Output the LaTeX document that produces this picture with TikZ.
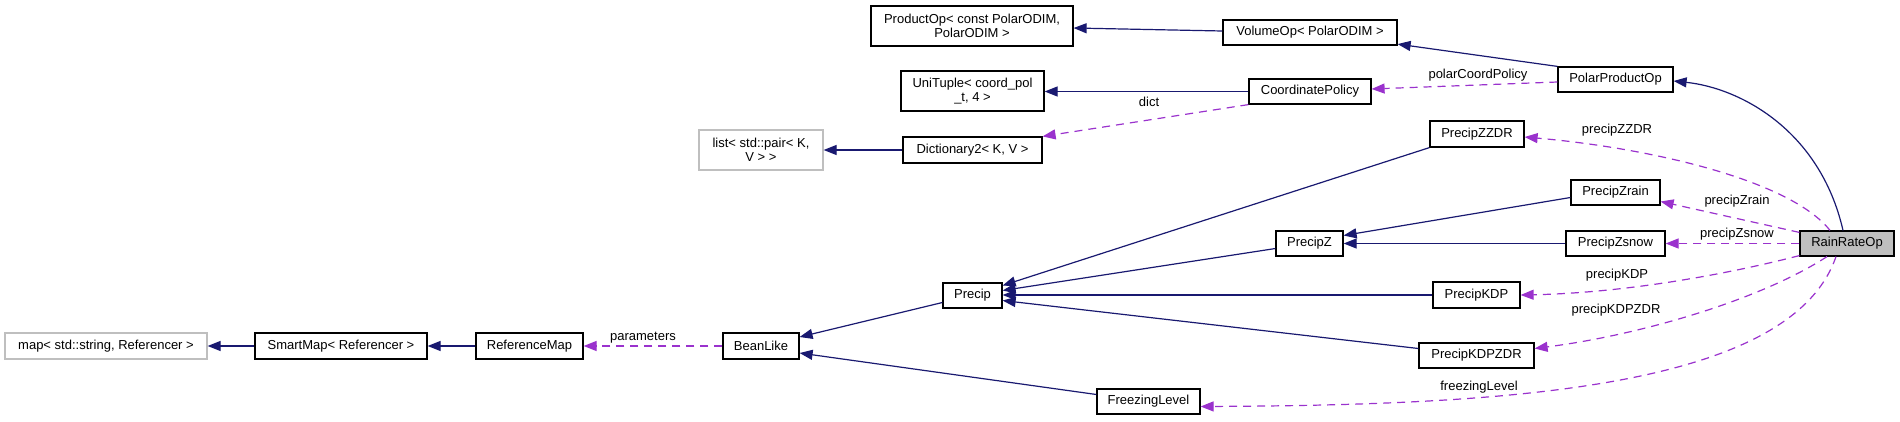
\documentclass[tikz,border=0pt]{standalone}
\usepackage{fontspec}
\setmainfont{Liberation Sans}
\usetikzlibrary{arrows.meta,calc}
\definecolor{navy}{HTML}{191970}
\definecolor{orchid}{HTML}{9A32CD}
\definecolor{boxgray}{HTML}{BFBFBF}
\begin{document}
\begin{tikzpicture}[x=1pt,y=-1pt,
  cls/.style={draw=black, line width=1.2pt, inner sep=0pt, align=center, font=\fontsize{13}{14.5}\selectfont},
  extcls/.style={cls, draw=boxgray},
  inh/.style={draw=navy, line width=1.2pt, -{Triangle[length=13pt,width=10pt]}, color=navy},
  usearrow/.style={draw=orchid, line width=1.2pt, dash pattern=on 8pt off 6pt, -{Triangle[length=13pt,width=10pt]}, color=orchid},
  lbl/.style={font=\fontsize{13}{14.5}\selectfont, inner sep=0pt, text=black}]
\useasboundingbox (0,0) rectangle (1900,421);

% nodes
\node[extcls, minimum width=202pt, minimum height=26pt] (map) at (106,346) {map< std::string, Referencer >};
\node[cls, minimum width=172pt, minimum height=26pt] (smartmap) at (341,346) {SmartMap< Referencer >};
\node[cls, minimum width=107pt, minimum height=26pt] (refmap) at (529.5,346) {ReferenceMap};
\node[cls, minimum width=76pt, minimum height=26pt] (beanlike) at (761,346) {BeanLike};
\node[cls, minimum width=59pt, minimum height=25pt] (precip) at (972.5,295.5) {Precip};
\node[cls, minimum width=103pt, minimum height=25pt] (freezing) at (1148.5,401.5) {FreezingLevel};
\node[extcls, minimum width=124pt, minimum height=40pt] (list) at (761,150) {list< std::pair< K,\\V > >};
\node[cls, minimum width=139pt, minimum height=26pt] (dict) at (972.5,150) {Dictionary2< K, V >};
\node[cls, minimum width=202pt, minimum height=40pt] (productop) at (972,26) {ProductOp< const PolarODIM,\\PolarODIM >};
\node[cls, minimum width=143pt, minimum height=40pt] (unituple) at (972.5,91) {UniTuple< coord\_pol\\\_t, 4 >};
\node[cls, minimum width=174pt, minimum height=25pt] (volumeop) at (1310,32.5) {VolumeOp< PolarODIM >};
\node[cls, minimum width=122pt, minimum height=25pt] (coordpol) at (1310,91.5) {CoordinatePolicy};
\node[cls, minimum width=115pt, minimum height=25pt] (polarprod) at (1615.5,79.5) {PolarProductOp};
\node[cls, minimum width=94pt, minimum height=26pt] (zzdr) at (1477,134) {PrecipZZDR};
\node[cls, minimum width=67pt, minimum height=25pt] (precipz) at (1309.5,243.5) {PrecipZ};
\node[cls, minimum width=89pt, minimum height=25pt] (zrain) at (1615.5,192.5) {PrecipZrain};
\node[cls, minimum width=99pt, minimum height=25pt] (zsnow) at (1615.5,243.5) {PrecipZsnow};
\node[cls, minimum width=87pt, minimum height=26pt] (kdp) at (1476.5,295) {PrecipKDP};
\node[cls, minimum width=115pt, minimum height=25pt] (kdpzdr) at (1476.5,355.5) {PrecipKDPZDR};
\node[cls, fill=boxgray, minimum width=94pt, minimum height=25pt] (rainrate) at (1847,243.5) {RainRateOp};

% inheritance
\draw[inh] (smartmap.west) -- (map.east);
\draw[inh] (refmap.west) -- (smartmap.east);
\draw[inh] ($(precip.west)+(0,7)$) -- ($(beanlike.east)+(0,-9)$);
\draw[inh] ($(freezing.west)+(0,-7)$) -- ($(beanlike.east)+(0,7)$);
\draw[inh] (zzdr.south west) -- ($(precip.east)+(0,-10)$);
\draw[inh] ($(precipz.west)+(0,5)$) -- ($(precip.east)+(0,-5)$);
\draw[inh] (kdp.west) -- (kdp.west -| precip.east);
\draw[inh] ($(kdpzdr.west)+(0,-7)$) -- ($(precip.east)+(0,5)$);
\draw[inh] ($(zrain.west)+(0,5)$) -- ($(precipz.east)+(0,-8)$);
\draw[inh] (zsnow.west) -- (precipz.east);
\draw[inh] (dict.west) -- (list.east);
\draw[inh] (coordpol.west) -- (coordpol.west -| unituple.east);
\draw[inh] ($(volumeop.west)+(0,-1.5)$) -- ($(productop.east)+(0,2)$);
\draw[inh] (polarprod.north west) -- ($(volumeop.south east)+(0,-1.5)$);
\draw[inh] ($(rainrate.north)+(-4,0)$) .. controls (1820,130) and (1740,88) .. ($(polarprod.east)+(0,1.5)$);

% usage
\draw[usearrow] (beanlike.west) -- (refmap.east);
\draw[usearrow] (coordpol.south west) -- (dict.north east);
\draw[usearrow] ($(polarprod.west)+(0,2.5)$) -- ($(coordpol.east)+(0,-2.5)$);
\draw[usearrow] ($(rainrate.north)+(-17,0)$) .. controls (1790,180) and (1650,148) .. ($(zzdr.east)+(0,3)$);
\draw[usearrow] ($(rainrate.north west)+(0,2)$) -- ($(zrain.east)+(0,9)$);
\draw[usearrow] (rainrate.west) -- (zsnow.east);
\draw[usearrow] ($(rainrate.south west)+(0,-1)$) .. controls (1720,276) and (1620,293) .. (kdp.east);
\draw[usearrow] ($(rainrate.south)+(-20,0)$) .. controls (1760,300) and (1640,335) .. ($(kdpzdr.east)+(0,-7)$);
\draw[usearrow] ($(rainrate.south)+(-11,0)$) .. controls (1790,390) and (1500,405) .. ($(freezing.east)+(0,5)$);

% labels
\node[lbl] (lparam) at (643,338) {parameters};
\node[lbl] (ldict) at (1149,102) {dict};
\node[lbl] (lpcp) at (1478,75) {polarCoordPolicy};
\node[lbl] (lzzdr) at (1617,130) {precipZZDR};
\node[lbl] (lzrain) at (1737,201) {precipZrain};
\node[lbl] (lzsnow) at (1737,234) {precipZsnow};
\node[lbl] (lkdp) at (1617,275) {precipKDP};
\node[lbl] (lkdpzdr) at (1616,310) {precipKDPZDR};
\node[lbl] (lfreeze) at (1479,387) {freezingLevel};
\end{tikzpicture}
\end{document}
